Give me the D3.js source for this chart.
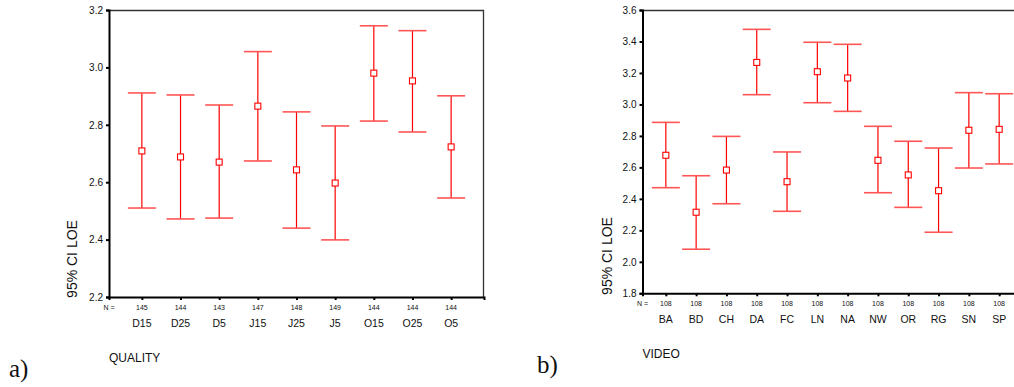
<!DOCTYPE html>
<html>
<head>
<meta charset="utf-8">
<script src="https://cdn.jsdelivr.net/npm/d3@7/dist/d3.min.js"></script>
<style>
  html, body { margin: 0; padding: 0; background: #fff; }
  svg { display: block; }
  text { font-family: "Liberation Sans", Arial, sans-serif; fill: #111; }
</style>
</head>
<body>
<svg id="chart" width="1014" height="387"></svg>
<script>
// Panel a): LOE by QUALITY, 95% confidence intervals
const qualityCats  = ["D15", "D25", "D5", "J15", "J25", "J5", "O15", "O25", "O5"];
const qualityN     = [145, 144, 143, 147, 148, 149, 144, 144, 144];
const qualityMean  = [2.709, 2.688, 2.670, 2.865, 2.643, 2.597, 2.980, 2.953, 2.723];
const qualityLower = [2.510, 2.472, 2.475, 2.674, 2.440, 2.399, 2.813, 2.775, 2.545];
const qualityUpper = [2.911, 2.904, 2.869, 3.055, 2.845, 2.796, 3.145, 3.128, 2.901];
const qualityTicks = [2.2, 2.4, 2.6, 2.8, 3.0, 3.2];

// Panel b): LOE by VIDEO, 95% confidence intervals
const videoCats  = ["BA", "BD", "CH", "DA", "FC", "LN", "NA", "NW", "OR", "RG", "SN", "SP"];
const videoN     = [108, 108, 108, 108, 108, 108, 108, 108, 108, 108, 108, 108];
const videoMean  = [2.677, 2.315, 2.583, 3.267, 2.509, 3.208, 3.168, 2.645, 2.552, 2.452, 2.836, 2.842];
const videoLower = [2.471, 2.080, 2.369, 3.062, 2.321, 3.011, 2.956, 2.439, 2.346, 2.188, 2.596, 2.622];
const videoUpper = [2.886, 2.547, 2.797, 3.477, 2.698, 3.395, 3.382, 2.861, 2.766, 2.723, 3.075, 3.068];
const videoTicks = [1.8, 2.0, 2.2, 2.4, 2.6, 2.8, 3.0, 3.2, 3.4, 3.6];

const svg = d3.select("#chart");

function drawPanel(cfg) {
  const g = svg.append("g");
  const x = d3.scalePoint().domain(cfg.cats).range([cfg.left, cfg.right]).padding(cfg.pad);
  const y = d3.scaleLinear().domain(cfg.domain).range([cfg.bottom, cfg.top]);

  // frame: thin top/right border
  g.append("line").attr("x1", cfg.left).attr("x2", cfg.right)
    .attr("y1", cfg.top + 0.5).attr("y2", cfg.top + 0.5)
    .attr("stroke", "#333").attr("stroke-width", 1.3);
  g.append("line").attr("x1", cfg.right - 0.5).attr("x2", cfg.right - 0.5)
    .attr("y1", cfg.top).attr("y2", cfg.bottom)
    .attr("stroke", "#333").attr("stroke-width", 1.3);

  // y axis
  const yAxis = d3.axisLeft(y).tickValues(cfg.ticks).tickFormat(d3.format(".1f"))
    .tickSize(3).tickPadding(3);
  const ya = g.append("g").attr("transform", `translate(${cfg.left},0)`).call(yAxis);
  ya.select(".domain").attr("stroke", "#000").attr("stroke-width", 2);
  ya.selectAll(".tick line").attr("stroke", "#000").attr("stroke-width", 2);
  ya.selectAll(".tick text").attr("font-size", 10).attr("fill", "#222")
    .style("font-family", "'Liberation Sans', Arial, sans-serif");

  // x axis with tick marks only
  const xAxis = d3.axisBottom(x).tickSize(3).tickFormat("");
  const xa = g.append("g").attr("transform", `translate(0,${cfg.bottom})`).call(xAxis);
  xa.select(".domain").attr("stroke", "#000").attr("stroke-width", 2);
  xa.selectAll(".tick line").attr("stroke", "#000").attr("stroke-width", 2);

  // N row
  g.append("text").attr("x", cfg.left).attr("y", cfg.nY)
    .attr("text-anchor", "middle").attr("font-size", 7).attr("fill", "#333")
    .text("N =");
  g.selectAll(".nlab").data(cfg.cats).join("text")
    .attr("x", d => x(d)).attr("y", cfg.nY)
    .attr("text-anchor", "middle").attr("font-size", 7).attr("fill", "#333")
    .text((d, i) => cfg.n[i]);

  // category labels
  g.selectAll(".clab").data(cfg.cats).join("text")
    .attr("x", d => x(d)).attr("y", cfg.catY)
    .attr("text-anchor", "middle").attr("font-size", 10.5).attr("fill", "#111")
    .text(d => d);

  // error bars
  const cap = 14;
  const bars = g.selectAll(".bar").data(cfg.cats).join("g");
  bars.append("line")
    .attr("x1", d => x(d)).attr("x2", d => x(d))
    .attr("y1", (d, i) => y(cfg.upper[i])).attr("y2", (d, i) => y(cfg.lower[i]))
    .attr("stroke", "#ff0000").attr("stroke-width", 1.2);
  bars.append("line")
    .attr("x1", d => x(d) - cap).attr("x2", d => x(d) + cap)
    .attr("y1", (d, i) => y(cfg.upper[i])).attr("y2", (d, i) => y(cfg.upper[i]))
    .attr("stroke", "#ff5555").attr("stroke-width", 1.6);
  bars.append("line")
    .attr("x1", d => x(d) - cap).attr("x2", d => x(d) + cap)
    .attr("y1", (d, i) => y(cfg.lower[i])).attr("y2", (d, i) => y(cfg.lower[i]))
    .attr("stroke", "#ff5555").attr("stroke-width", 1.6);
  bars.append("rect")
    .attr("x", d => x(d) - 3).attr("y", (d, i) => y(cfg.mean[i]) - 3)
    .attr("width", 6).attr("height", 6)
    .attr("fill", "#fff").attr("stroke", "#ff0000").attr("stroke-width", 1.1);

  // y title
  g.append("text")
    .attr("transform", `translate(${cfg.yTitleX},${cfg.yTitleY}) rotate(-90)`)
    .attr("text-anchor", "middle").attr("font-size", 14).attr("fill", "#222")
    .text("95% CI LOE");

  // x title
  g.append("text").attr("x", cfg.left).attr("y", cfg.xTitleY)
    .attr("font-size", 12).attr("fill", "#111").text(cfg.xTitle);

  // panel letter
  g.append("text").attr("x", cfg.letterX).attr("y", cfg.letterY)
    .attr("font-size", 25).style("font-family", "'Liberation Serif', 'Times New Roman', serif")
    .attr("fill", "#111").text(cfg.letter);
}

drawPanel({
  cats: qualityCats, n: qualityN, mean: qualityMean, lower: qualityLower, upper: qualityUpper,
  ticks: qualityTicks, domain: [2.2, 3.2],
  left: 109, right: 484, top: 10, bottom: 297, pad: 0.85,
  nY: 310, catY: 327, yTitleX: 77, yTitleY: 259,
  xTitle: "QUALITY", xTitleY: 361.5, letter: "a)", letterX: 9, letterY: 377
});

drawPanel({
  cats: videoCats, n: videoN, mean: videoMean, lower: videoLower, upper: videoUpper,
  ticks: videoTicks, domain: [1.8, 3.6],
  left: 642.5, right: 1022.5, top: 10, bottom: 293.3, pad: 0.77,
  nY: 306, catY: 322.5, yTitleX: 612, yTitleY: 256,
  xTitle: "VIDEO", xTitleY: 357.5, letter: "b)", letterX: 537, letterY: 373
});
</script>
</body>
</html>
